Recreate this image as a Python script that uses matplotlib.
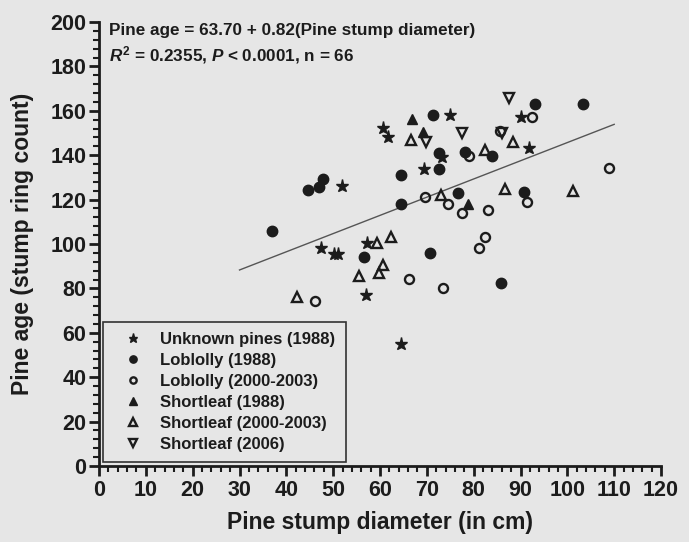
import matplotlib.pyplot as plt
import numpy as np
from matplotlib.ticker import MultipleLocator

# Data (diameter in cm, ring count)
unknown_x = [60.6, 61.8, 51.9, 75.0, 69.3, 90.0, 91.8, 47.4, 50.2, 51.0, 57.2, 57.0, 64.5, 73.2]
unknown_y = [152.1, 148.3, 126.1, 158.1, 133.8, 157.0, 143.1, 98.2, 95.5, 95.5, 100.5, 77.0, 55.0, 139.0]

lob88_x = [44.6, 47.0, 47.9, 36.9, 56.6, 64.4, 72.5, 64.4, 76.6, 90.8, 71.4, 72.6, 78.2, 83.9, 93.0, 103.3, 70.7, 85.8]
lob88_y = [124.3, 125.5, 129.1, 105.9, 94.1, 131.1, 133.8, 118.0, 123.0, 123.3, 158.1, 141.2, 141.4, 139.8, 162.9, 162.9, 95.9, 82.4]

lob00_x = [46.1, 66.2, 73.5, 82.4, 81.1, 69.5, 74.6, 77.4, 83.0, 91.3, 108.9, 79.0, 85.7, 92.5]
lob00_y = [74.3, 84.2, 80.2, 103.2, 98.2, 121.2, 118.0, 114.0, 115.1, 118.8, 134.2, 139.6, 150.9, 157.0]

short88_x = [66.9, 69.1, 78.7]
short88_y = [156.2, 150.6, 117.8]

short00_x = [42.3, 55.5, 59.8, 60.6, 59.4, 62.4, 73.0, 86.7, 101.2, 66.6, 82.4, 88.3]
short00_y = [76.1, 85.6, 86.9, 90.5, 100.5, 103.2, 122.3, 124.8, 123.9, 146.8, 142.3, 146.1]

short06_x = [69.8, 77.5, 86.0, 87.6]
short06_y = [145.8, 149.9, 150.0, 165.6]

intercept = 63.70
slope = 0.82
fit_range = [30, 110]

bg = '#e6e6e6'
ink = '#1c1c1c'

plt.rcParams['font.family'] = ['Liberation Sans', 'DejaVu Sans']
plt.rcParams['font.weight'] = 'bold'
plt.rcParams['mathtext.fontset'] = 'custom'
plt.rcParams['mathtext.rm'] = 'Liberation Sans:bold'
plt.rcParams['mathtext.it'] = 'Liberation Sans:italic:bold'
plt.rcParams['mathtext.bf'] = 'Liberation Sans:bold'

fig = plt.figure(figsize=(6.89, 5.42), dpi=100, facecolor=bg)
ax = fig.add_axes([0.1437, 0.1402, 0.8157, 0.8192], facecolor=bg)

# Regression line
fx = np.array(fit_range)
ax.plot(fx, intercept + slope * fx, color='#555555', lw=1.0, zorder=1)

ms = 7.5
ax.plot(unknown_x, unknown_y, ls='none', marker='*', ms=ms + 2, color=ink, label='Unknown pines (1988)')
ax.plot(lob88_x, lob88_y, ls='none', marker='o', ms=ms, color=ink, label='Loblolly (1988)')
ax.plot(lob00_x, lob00_y, ls='none', marker='o', ms=ms - 1, mfc='none', mec=ink, mew=1.7,
        label='Loblolly (2000-2003)')
ax.plot(short88_x, short88_y, ls='none', marker='^', ms=ms, color=ink, label='Shortleaf (1988)')
ax.plot(short00_x, short00_y, ls='none', marker='^', ms=ms, mfc='none', mec=ink, mew=1.7,
        label='Shortleaf (2000-2003)')
ax.plot(short06_x, short06_y, ls='none', marker='v', ms=ms, mfc='none', mec=ink, mew=1.7,
        label='Shortleaf (2006)')

ax.set_xlim(0, 120)
ax.set_ylim(0, 200)
ax.xaxis.set_major_locator(MultipleLocator(10))
ax.xaxis.set_minor_locator(MultipleLocator(2))
ax.yaxis.set_major_locator(MultipleLocator(20))
ax.yaxis.set_minor_locator(MultipleLocator(4))

ax.spines[['top', 'right']].set_visible(False)
for s in ['left', 'bottom']:
    ax.spines[s].set_linewidth(2)
    ax.spines[s].set_color(ink)
ax.tick_params(which='major', direction='out', length=7, width=2, color=ink,
               labelsize=15.5, labelcolor=ink)
ax.tick_params(which='minor', direction='out', length=4, width=1.5, color=ink)
ax.tick_params(axis='x', pad=3)
ax.tick_params(axis='y', pad=2)

ax.set_xlabel('Pine stump diameter (in cm)', fontsize=16.5, fontweight='bold', color=ink, labelpad=7)
ax.set_ylabel('Pine age (stump ring count)', fontsize=16.5, fontweight='bold', color=ink, labelpad=12)

ax.text(0.017, 0.98, 'Pine age = 63.70 + 0.82(Pine stump diameter)', transform=ax.transAxes,
        fontsize=12.3, fontweight='bold', color=ink, va='center', ha='left')
ax.text(0.017, 0.925, r'$R^2$ = 0.2355, $P$ < 0.0001, n = 66', transform=ax.transAxes,
        fontsize=12.3, fontweight='bold', color=ink, va='center', ha='left')

leg = ax.legend(loc='lower left', bbox_to_anchor=(0.007, 0.009), fontsize=12, frameon=True,
                fancybox=False, edgecolor='#333333', facecolor=bg, framealpha=1,
                borderpad=0.6, labelspacing=0.36, handletextpad=0.45, borderaxespad=0,
                handlelength=2.4, markerscale=0.7)
leg.get_frame().set_linewidth(1.2)
for t in leg.get_texts():
    t.set_color(ink)

fig.savefig('out.png', dpi=100, facecolor=bg)
